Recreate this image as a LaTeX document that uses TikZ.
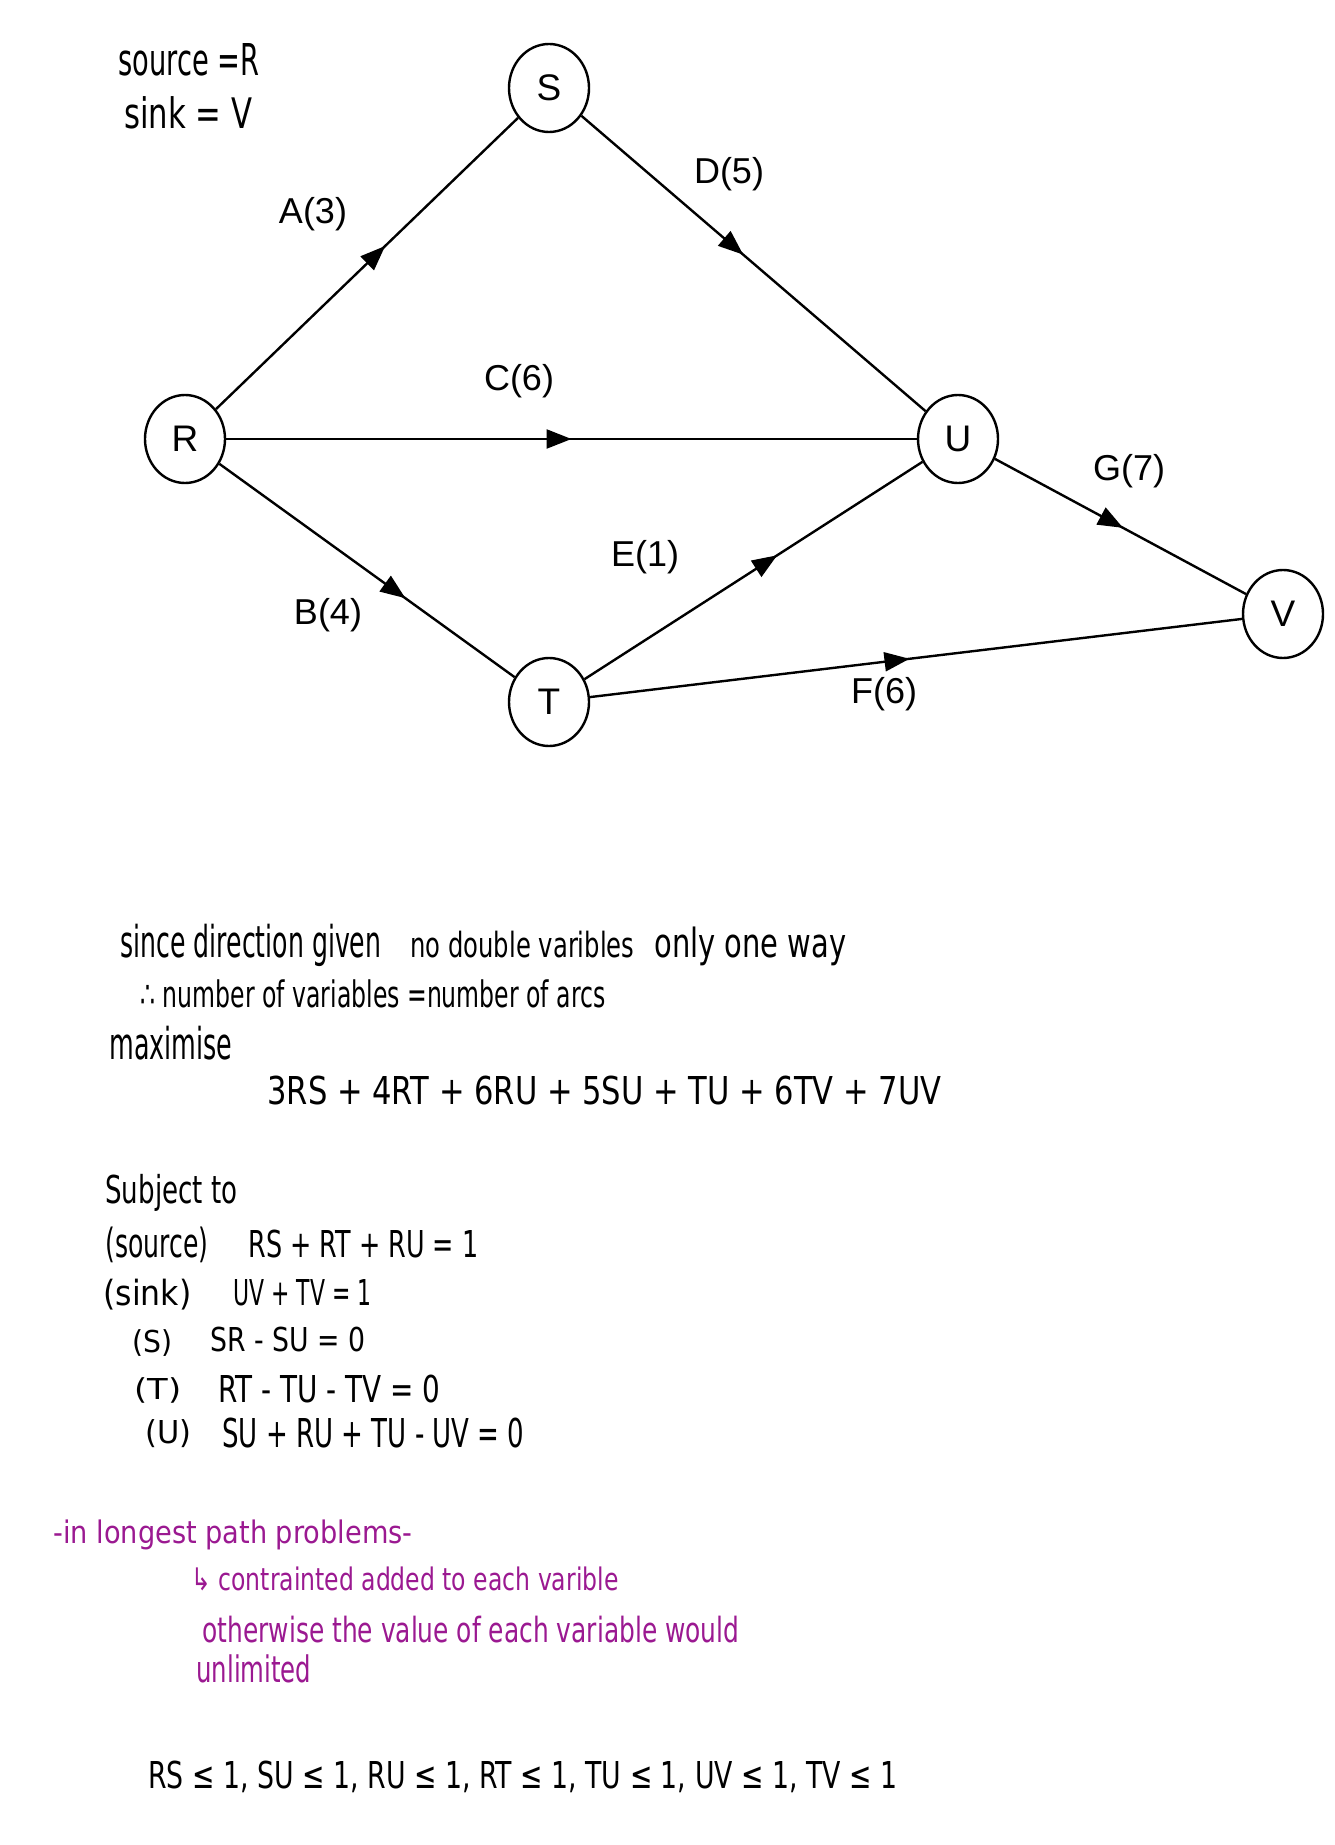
\documentclass[tikz,border=0pt]{standalone}
\usepackage{fontspec}
\setmainfont{Liberation Sans}
\newfontfamily\hwfont{DejaVu Sans}
\usepackage{graphicx}
\usetikzlibrary{arrows.meta,decorations.markings,shapes.geometric}
\definecolor{hwpurple}{RGB}{155,25,145}
\newdimen\hwpx \hwpx=0.5pt
% handwriting line: width, x-height (px)
\newcommand\hwx[3]{\resizebox{#1\hwpx}{#2\hwpx}{\smash{#3}\vrule height 1ex depth 0pt width 0pt}}
% handwriting line: width, cap height (px)
\newcommand\hwc[3]{\resizebox{#1\hwpx}{#2\hwpx}{\smash{#3}\vphantom{X}}}
\tikzset{
  vertex/.style={ellipse, draw, line width=1.2pt, minimum width=40pt, minimum height=44pt,
    inner sep=0pt, font=\fontsize{18.5pt}{18.5pt}\selectfont},
  lbl/.style={inner sep=0pt, font=\fontsize{18pt}{18pt}\selectfont},
  flowarc/.style={line width=1.2pt, postaction={decorate},
    decoration={markings, mark=at position #1 with {\arrow{Triangle[length=12.5pt,width=9.5pt]}}}},
  hw/.style={inner sep=0pt, anchor=base west, font=\hwfont\fontsize{20pt}{24pt}\selectfont, text=black},
  hwp/.style={hw, text=hwpurple}
}
\begin{document}
\begin{tikzpicture}[x=0.5pt,y=-0.5pt]
\useasboundingbox (0,0) rectangle (1334,1845);
\fill[white] (0,0) rectangle (1334,1845);

% graph
\node[vertex] (S) at (549,88) {S};
\node[vertex] (R) at (185,439) {R};
\node[vertex] (U) at (958,439) {U};
\node[vertex] (T) at (549,702) {T};
\node[vertex] (V) at (1283,614) {V};

\draw[flowarc=0.56] (R) -- (S);
\draw[flowarc=0.47] (S) -- (U);
\draw[flowarc=0.50] (R) -- (U);
\draw[flowarc=0.63] (R) -- (T);
\draw[flowarc=0.57] (T) -- (U);
\draw[flowarc=0.49] (T) -- (V);
\draw[flowarc=0.51] (U) -- (V);

\node[lbl] (lA) at (313,214) {A(3)};
\node[lbl] (lD) at (729,174) {D(5)};
\node[lbl] (lC) at (519,381) {C(6)};
\node[lbl] (lB) at (328,615) {B(4)};
\node[lbl] (lE) at (645,557) {E(1)};
\node[lbl] (lF) at (884,694) {F(6)};
\node[lbl] (lG) at (1129,471) {G(7)};

% handwritten notes
\node[hw] (h1) at (118,76) {\hwx{141}{24}{source =R}};
\node[hw] (h2) at (124,129) {\hwx{128}{23}{sink = V}};

\node[hw] (h3a) at (120,957) {\hwx{261}{24}{since direction given}};
\node[hw] (h3b) at (410,957) {\hwx{224}{19}{no double varibles}};
\node[hw] (h3c) at (654,957) {\hwx{192}{22}{only one way}};
\node[hw] (h4) at (140,1007) {\hwx{465}{20}{∴ number of variables =number of arcs}};
\node[hw] (h5) at (109,1059) {\hwx{123}{24}{maximise}};
\node[hw] (h6) at (267,1104) {\hwc{674}{28}{3RS + 4RT + 6RU + 5SU + TU + 6TV + 7UV}};

\node[hw] (h7) at (105,1203) {\hwx{132}{21}{Subject to}};
\node[hw] (h8a) at (105,1257) {\hwx{103}{22}{(source)}};
\node[hw] (h8b) at (248,1257) {\hwc{230}{27}{RS + RT + RU = 1}};
\node[hw] (h9a) at (103,1305) {\hwx{88}{19}{(sink)}};
\node[hw] (h9b) at (233,1305) {\hwc{138}{26}{UV + TV = 1}};
\node[hw] (h10a) at (132,1352) {\hwc{40}{22}{(S)}};
\node[hw] (h10b) at (210,1351) {\hwc{155}{24}{SR - SU = 0}};
\node[hw] (h11a) at (134,1399) {\hwc{47}{21}{(T)}};
\node[hw] (h11b) at (218,1402) {\hwc{222}{27}{RT - TU - TV = 0}};
\node[hw] (h12a) at (145,1443) {\hwc{46}{23}{(U)}};
\node[hw] (h12b) at (222,1447) {\hwc{302}{29}{SU + RU + TU - UV = 0}};

\node[hwp] (p1) at (53,1543) {\hwx{359}{17}{-in longest path problems-}};
\node[hwp] (p2) at (191,1590) {\hwx{427}{17}{↳ contrainted added to each varible}};
\node[hwp] (p3) at (202,1642) {\hwx{537}{19}{otherwise the value of each variable would}};
\node[hwp] (p4) at (196,1682) {\hwx{115}{20}{unlimited}};

\node[hw] (h13) at (148,1788) {\hwc{749}{27}{RS ≤ 1, SU ≤ 1, RU ≤ 1, RT ≤ 1, TU ≤ 1, UV ≤ 1, TV ≤ 1}};
\end{tikzpicture}
\end{document}
